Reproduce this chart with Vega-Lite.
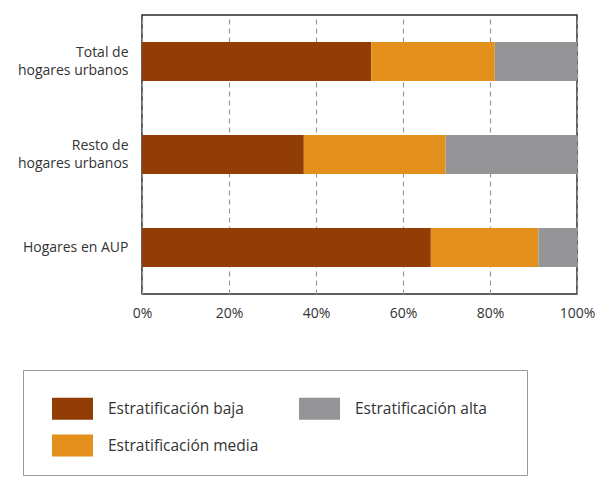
{
  "$schema": "https://vega.github.io/schema/vega-lite/v6.json",
  "autosize": "none",
  "padding": {"left": 142, "top": 15, "right": 18, "bottom": 191},
  "width": 435,
  "height": 279,
  "background": "white",
  "config": {
    "font": "Open Sans",
    "view": {"stroke": "#2b2b2b", "strokeWidth": 1.5}
  },
  "data": {
    "values": [
      {"grupo": "Total de\nhogares urbanos", "estrato": "Estratificación baja", "orden": 1, "valor": 52.7},
      {"grupo": "Total de\nhogares urbanos", "estrato": "Estratificación media", "orden": 2, "valor": 28.4},
      {"grupo": "Total de\nhogares urbanos", "estrato": "Estratificación alta", "orden": 3, "valor": 18.9},
      {"grupo": "Resto de\nhogares urbanos", "estrato": "Estratificación baja", "orden": 1, "valor": 37.2},
      {"grupo": "Resto de\nhogares urbanos", "estrato": "Estratificación media", "orden": 2, "valor": 32.6},
      {"grupo": "Resto de\nhogares urbanos", "estrato": "Estratificación alta", "orden": 3, "valor": 30.2},
      {"grupo": "Hogares en AUP", "estrato": "Estratificación baja", "orden": 1, "valor": 66.4},
      {"grupo": "Hogares en AUP", "estrato": "Estratificación media", "orden": 2, "valor": 24.7},
      {"grupo": "Hogares en AUP", "estrato": "Estratificación alta", "orden": 3, "valor": 8.9}
    ]
  },
  "mark": {"type": "bar"},
  "encoding": {
    "y": {
      "field": "grupo",
      "type": "nominal",
      "sort": null,
      "scale": {"paddingInner": 0.58, "paddingOuter": 0.29},
      "axis": {
        "title": null,
        "domain": false,
        "ticks": false,
        "labelPadding": 14,
        "labelFontSize": 14,
        "labelLineHeight": 18,
        "labelColor": "#333",
        "labelExpr": "split(datum.value, '\\n')",
        "labelOffset": {"condition": {"test": "indexof(datum.value, '\\n') >= 0", "value": -9}, "value": 0}
      }
    },
    "x": {
      "field": "valor",
      "type": "quantitative",
      "stack": "zero",
      "scale": {"domain": [0, 100], "nice": false},
      "axis": {
        "title": null,
        "values": [0, 20, 40, 60, 80, 100],
        "labelExpr": "datum.value + '%'",
        "labelFlush": false,
        "domain": false,
        "ticks": false,
        "labelPadding": 12,
        "labelFontSize": 14,
        "labelColor": "#333",
        "gridColor": "#999",
        "gridDash": [5, 4],
        "gridWidth": 1.2
      }
    },
    "order": {"field": "orden", "type": "quantitative"},
    "color": {
      "field": "estrato",
      "type": "nominal",
      "scale": {
        "domain": ["Estratificación baja", "Estratificación media", "Estratificación alta"],
        "range": ["#923c06", "#e4901d", "#959598"]
      },
      "legend": {
        "title": " ",
        "titleOrient": "right",
        "titlePadding": 22,
        "orient": "none",
        "legendX": -119,
        "legendY": 355,
        "direction": "horizontal",
        "columns": 2,
        "values": ["Estratificación baja", "Estratificación alta", "Estratificación media"],
        "symbolType": "M-1,-0.537L1,-0.537L1,0.537L-1,0.537Z",
        "symbolSize": 1681,
        "symbolStrokeWidth": 0,
        "symbolOpacity": 1,
        "symbolOffset": 11,
        "labelFontSize": 15.5,
        "labelColor": "#333",
        "labelOffset": 15,
        "columnPadding": 29,
        "rowPadding": 5,
        "padding": 18,
        "strokeColor": "#999",
        "fillColor": "white"
      }
    }
  }
}
